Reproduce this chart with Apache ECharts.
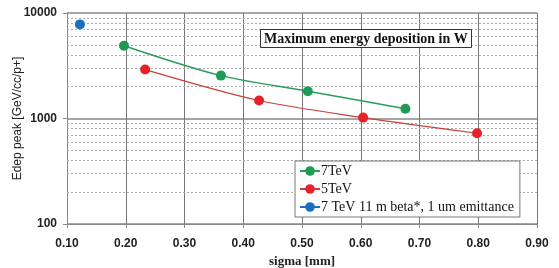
<!DOCTYPE html>
<html>
<head>
<meta charset="utf-8">
<script src="https://cdn.jsdelivr.net/npm/echarts@6/dist/echarts.min.js"></script>
<style>
html, body { margin: 0; padding: 0; background: #fff; }
#main { width: 559px; height: 268px; }
</style>
</head>
<body>
<div id="main"></div>
<script>
// sigma [mm] vs peak energy deposition
var sigma7 = [0.197, 0.362, 0.510, 0.676];
var edep7 = [4900, 2550, 1815, 1235];
var sigma5 = [0.233, 0.427, 0.604, 0.798];
var edep5 = [2910, 1480, 1020, 725];
var sigmaBeta = [0.122];
var edepBeta = [7800];
var seriesNames = ['7TeV', '5TeV', '7 TeV 11 m beta*, 1 um emittance'];
var minorLevels = [200, 300, 400, 500, 600, 700, 800, 900, 2000, 3000, 4000, 5000, 6000, 7000, 8000, 9000];

function pairs(xs, ys) {
    return xs.map(function (x, i) { return [x, ys[i]]; });
}

var chart = echarts.init(document.getElementById('main'), null, { renderer: 'canvas' });

var option = {
    animation: false,
    backgroundColor: '#fff',
    title: {
        text: 'Maximum energy deposition in W',
        left: 260,
        top: 29,
        padding: [3, 4, 2, 4],
        borderColor: '#333',
        borderWidth: 1,
        backgroundColor: '#fff',
        textStyle: {
            fontFamily: 'Liberation Serif',
            fontWeight: 'bold',
            fontSize: 14,
            color: '#111'
        }
    },
    legend: {
        orient: 'vertical',
        left: 295,
        top: 161,
        padding: [3, 6, 3, 4],
        itemGap: 4,
        itemWidth: 20,
        itemHeight: 12,
        borderColor: '#777',
        borderWidth: 1,
        backgroundColor: '#fff',
        data: seriesNames,
        textStyle: {
            fontFamily: 'Liberation Serif',
            fontSize: 14,
            color: '#111',
            padding: [0, 0, 0, -4]
        }
    },
    grid: { left: 67, top: 13, right: 22, bottom: 44, outerBoundsMode: 'none', containLabel: false },
    xAxis: {
        type: 'value',
        min: 0.1,
        max: 0.9,
        interval: 0.1,
        name: 'sigma [mm]',
        nameLocation: 'middle',
        nameGap: 31,
        nameMoveOverlap: false,
        nameTextStyle: {
            fontFamily: 'Liberation Serif',
            fontWeight: 'bold',
            fontSize: 13,
            color: '#222'
        },
        axisLine: { show: true, lineStyle: { color: '#888' } },
        axisTick: { show: true, length: 4, lineStyle: { color: '#888' } },
        axisLabel: {
            margin: 14,
            fontFamily: 'Liberation Sans',
            fontWeight: 'bold',
            fontSize: 12,
            color: '#222',
            formatter: function (v) { return v.toFixed(2); }
        },
        splitLine: { show: true, lineStyle: { color: '#777', width: 1 } }
    },
    yAxis: {
        type: 'log',
        logBase: 10,
        min: 100,
        max: 10000,
        name: 'Edep peak [GeV/cc/p+]',
        nameLocation: 'middle',
        nameGap: 43,
        nameMoveOverlap: false,
        nameTextStyle: {
            fontFamily: 'Liberation Sans',
            fontSize: 12,
            color: '#222'
        },
        axisLine: { show: true, lineStyle: { color: '#888' } },
        axisTick: { show: true, length: 4, lineStyle: { color: '#888' } },
        axisLabel: {
            margin: 10,
            fontFamily: 'Liberation Sans',
            fontWeight: 'bold',
            fontSize: 12,
            color: '#222',
            formatter: function (v) { return String(Math.round(v)); }
        },
        splitLine: { show: true, lineStyle: { color: '#888', width: 1.5 } }
    },
    series: [
        {
            name: seriesNames[0],
            type: 'line',
            smooth: 0.3,
            data: pairs(sigma7, edep7),
            symbol: 'circle',
            symbolSize: 10,
            itemStyle: { color: '#1f9a55' },
            lineStyle: { color: '#2a9d5c', width: 1.5 },
            z: 4,
            markLine: {
                silent: true,
                symbol: 'none',
                label: { show: false },
                lineStyle: { color: '#aaa', type: [2, 2], width: 1 },
                z: 1,
                data: minorLevels.map(function (v) { return { yAxis: v }; })
            }
        },
        {
            name: seriesNames[1],
            type: 'line',
            smooth: 0.3,
            data: pairs(sigma5, edep5),
            symbol: 'circle',
            symbolSize: 10,
            itemStyle: { color: '#e8202a' },
            lineStyle: { color: '#c8403a', width: 1.2 },
            z: 4
        },
        {
            name: seriesNames[2],
            type: 'line',
            data: pairs(sigmaBeta, edepBeta),
            symbol: 'circle',
            symbolSize: 10,
            itemStyle: { color: '#1a6fbf' },
            lineStyle: { color: '#1a6fbf', width: 1.5 },
            z: 4
        }
    ]
};

chart.setOption(option);
</script>
</body>
</html>
